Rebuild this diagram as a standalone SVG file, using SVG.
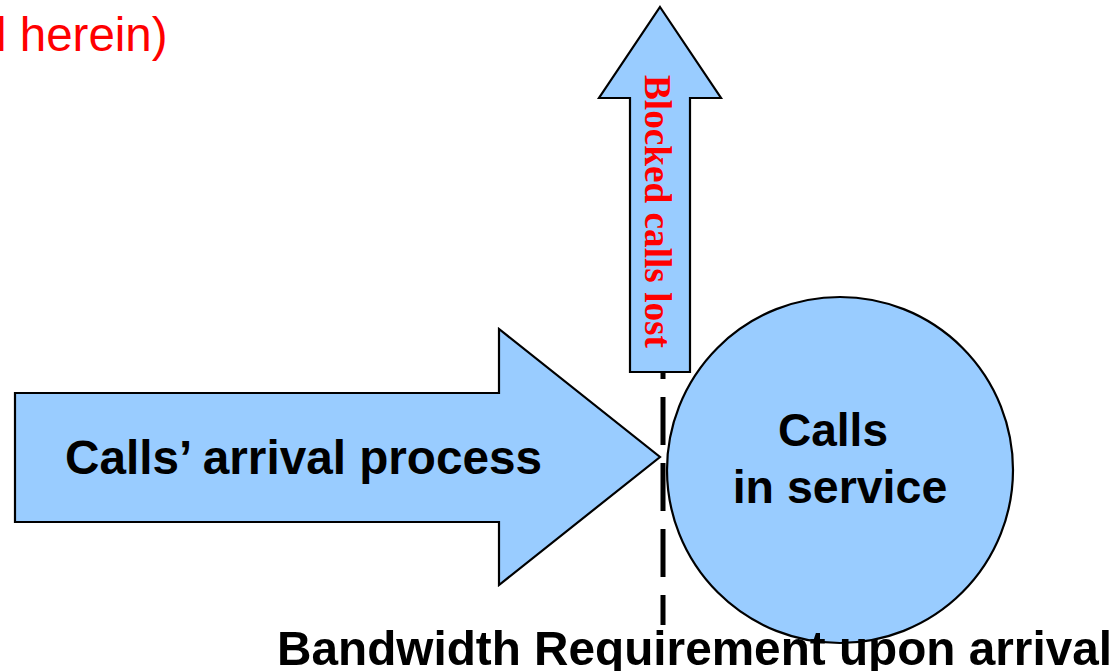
<svg xmlns="http://www.w3.org/2000/svg" width="1119" height="671" viewBox="0 0 1119 671">
<style>
.shape{fill:#99CCFF;stroke:#000;stroke-width:2.2;stroke-linejoin:miter}
.lbl{font-family:"Liberation Sans",Arial,sans-serif;font-weight:bold;fill:#000}
</style>
<rect width="1119" height="671" fill="#fff"/>
<text x="-4" y="51" font-family="Liberation Sans,Arial,sans-serif" font-size="47.5" fill="#FF0000">l herein)</text>
<g id="connectors">
<line x1="663" y1="331" x2="663" y2="625" stroke="#000" stroke-width="5" stroke-dasharray="48 18"/>
</g>
<g id="blocked">
<polygon class="shape" points="660,7 721,98 690,98 690,372 630,372 630,98 599,98"/>
<text transform="translate(645,75) rotate(90)" font-family="Liberation Serif,'Times New Roman',serif" font-weight="bold" font-size="38" fill="#FF0000" textLength="273" lengthAdjust="spacingAndGlyphs">Blocked calls lost</text>
</g>
<g id="arrival">
<polygon class="shape" points="15,393 499,393 499,329 660,457 499,585 499,522 15,522"/>
<text class="lbl" x="65" y="474" font-size="48" textLength="477" lengthAdjust="spacingAndGlyphs">Calls’ arrival process</text>
</g>
<g id="service">
<circle class="shape" cx="840" cy="470" r="173"/>
<text class="lbl" x="833" y="446" font-size="46" text-anchor="middle">Calls</text>
<text class="lbl" x="840" y="503" font-size="46.5" text-anchor="middle">in service</text>
</g>
<text class="lbl" x="277" y="665" font-size="49" textLength="835" lengthAdjust="spacingAndGlyphs">Bandwidth Requirement upon arrival</text>
</svg>
